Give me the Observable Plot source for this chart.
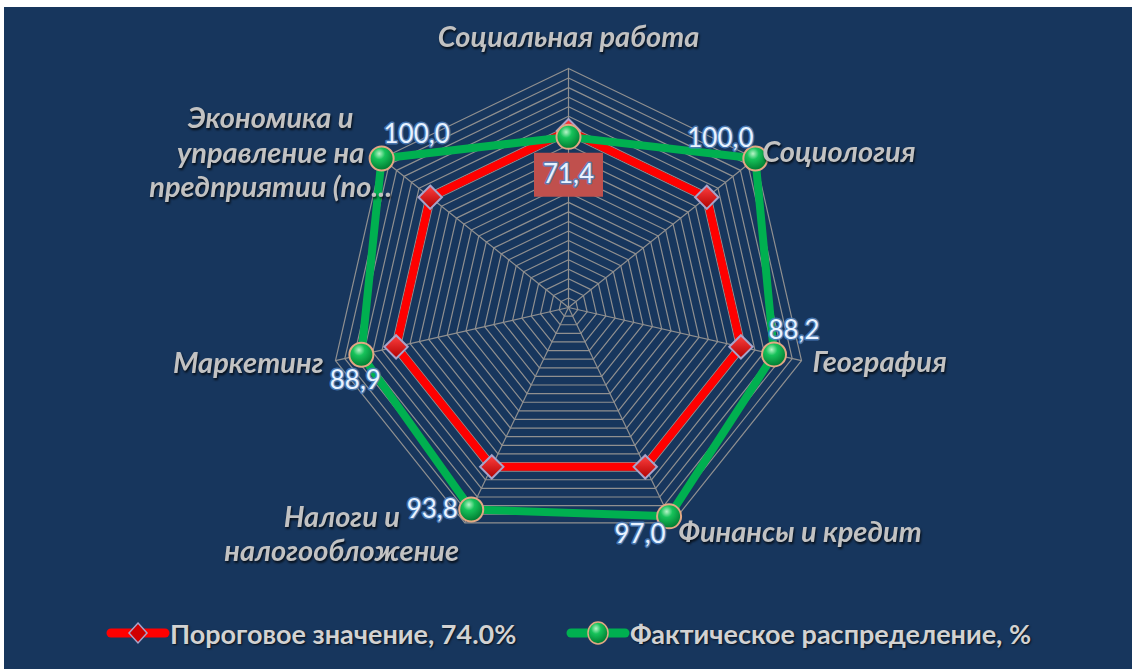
<!DOCTYPE html>
<html><head><meta charset="utf-8">
<script src="https://cdn.jsdelivr.net/npm/d3@7"></script>
<script src="https://cdn.jsdelivr.net/npm/@observablehq/plot@0.6"></script>
<style>
html,body{margin:0;padding:0;background:#fff;width:1132px;height:669px;overflow:hidden;}
#bg{position:absolute;left:4px;top:7px;width:1128px;height:662px;background:#17365D;}
#chart{position:absolute;left:0;top:0;}
#legend{position:absolute;top:615px;left:0;width:1132px;height:36px;font-family:Lato,"Open Sans",sans-serif;font-weight:bold;font-size:27px;color:#D2D2D2;}
.item{position:absolute;top:0;height:36px;display:flex;align-items:center;white-space:nowrap;text-shadow:1px 1px 2px rgba(0,0,0,0.7);}
.item svg{display:block;}
</style></head><body>
<div id="bg"></div><div id="chart"></div><div id="legend"></div>
<script>
// ---- data ----
const categories = [
  "Социальная работа",
  "Социология",
  "География",
  "Финансы и кредит",
  "Налоги и\nналогообложение",
  "Маркетинг",
  "Экономика и\nуправление на\nпредприятии (по..."
];
const thresholdValues = [74, 74, 74, 74, 74, 74, 74];
const actualValues = [71.4, 100, 88.2, 97.0, 93.8, 88.9, 100];
const valueLabels = ["71,4", "100,0", "88,2", "97,0", "93,8", "88,9", "100,0"];
const seriesNames = ["Пороговое значение, 74.0%", "Фактическое распределение, %"];
const gridMax = 100;
const gridStep = 4;

// ---- layout (pixels) ----
const W = 1132, H = 600, CX = 568, CY = 307, R = 239;
const k = R / gridMax; // px per unit
const xDomain = [-CX / k, (W - CX) / k];
const yDomain = [-(H - CY) / k, CY / k];

// label placement relative to points (pixels)
const axisLabelLayout = [
  {anchor: "middle", dx: 0, dy: -33},
  {anchor: "start", dx: 7, dy: -8},
  {anchor: "start", dx: 11, dy: 0},
  {anchor: "start", dx: 6, dy: 8},
  {anchor: "middle", dx: -123, dy: 10},
  {anchor: "end", dx: -12, dy: 1},
  {anchor: "middle", dx: -111, dy: -7}
];
const valueLabelLayout = [
  {dx: 0, dy: 38}, {dx: -35, dy: -20}, {dx: 20, dy: -24}, {dx: -29, dy: 18},
  {dx: -39, dy: 0}, {dx: -6, dy: 26}, {dx: 35, dy: -24}
];

const n = categories.length;
const ang = i => i * 2 * Math.PI / n;
const px = (v, i) => v * Math.sin(ang(i));
const py = (v, i) => v * Math.cos(ang(i));

const ringLevels = d3.range(gridStep, gridMax + gridStep / 2, gridStep);
const ringData = ringLevels.flatMap(l => d3.range(n + 1).map(i => ({l, x: px(l, i % n), y: py(l, i % n)})));
const spokes = categories.map((c, i) => ({x1: 0, y1: 0, x2: px(gridMax, i), y2: py(gridMax, i)}));

const series = (vals) => vals.map((v, i) => ({cat: categories[i], v, i, x: px(v, i), y: py(v, i)}));
const red = series(thresholdValues);
const green = series(actualValues);
const closed = arr => [...arr, arr[0]];

const defs = () => {
  const d = d3.create("svg:defs");
  const g = d.append("radialGradient").attr("id", "gGreen").attr("cx", "40%").attr("cy", "30%").attr("r", "70%");
  g.append("stop").attr("offset", "0%").attr("stop-color", "#B8F5C8");
  g.append("stop").attr("offset", "35%").attr("stop-color", "#17C25A");
  g.append("stop").attr("offset", "100%").attr("stop-color", "#007A30");
  const r = d.append("linearGradient").attr("id", "gRed").attr("x1", "0").attr("y1", "0").attr("x2", "0").attr("y2", "1");
  r.append("stop").attr("offset", "0%").attr("stop-color", "#FF4040");
  r.append("stop").attr("offset", "100%").attr("stop-color", "#B00000");
  return d.node();
};

const boxSymbol = {draw(ctx) { ctx.rect(-34.5, -22, 69, 44); }};

const axisLabelMarks = categories.map((c, i) => Plot.text([c], {
  x: () => px(gridMax, i), y: () => py(gridMax, i), text: d => d,
  dx: axisLabelLayout[i].dx, dy: axisLabelLayout[i].dy, textAnchor: axisLabelLayout[i].anchor,
  fontFamily: "Lato, 'Open Sans', sans-serif", fontSize: 29, fontStyle: "italic", fontWeight: "bold",
  fill: "#C2C2C2", lineHeight: 1.2, ariaDescription: "axis-label"
}));

const valueLabelMarks = green.map((d, i) => Plot.text([d], {
  x: "x", y: "y", text: () => valueLabels[i],
  dx: valueLabelLayout[i].dx, dy: valueLabelLayout[i].dy,
  fontFamily: "Lato, 'Open Sans', sans-serif", fontSize: 26,
  fill: "#E8F2FF", stroke: "#4F81BD", strokeWidth: 3, strokeOpacity: 0.85, paintOrder: "stroke"
}));

const chart = Plot.plot({
  width: W, height: H,
  marginTop: 0, marginRight: 0, marginBottom: 0, marginLeft: 0,
  style: {background: "transparent", overflow: "visible"},
  x: {domain: xDomain, range: [0, W], axis: null},
  y: {domain: yDomain, range: [H, 0], axis: null},
  marks: [
    defs,
    Plot.line(ringData, {x: "x", y: "y", z: "l", stroke: "#909090", strokeWidth: 1.2}),
    Plot.link(spokes, {x1: "x1", y1: "y1", x2: "x2", y2: "y2", stroke: "#909090", strokeWidth: 1.2}),
    Plot.line(closed(red), {x: "x", y: "y", stroke: "#FF0000", strokeWidth: 8, strokeLinejoin: "miter", curve: "linear"}),
    Plot.dot(red, {x: "x", y: "y", symbol: "diamond2", r: 10.5, fill: "url(#gRed)", stroke: "#A9A3C9", strokeWidth: 2}),
    Plot.line(closed(green), {x: "x", y: "y", stroke: "#00B050", strokeWidth: 8, strokeLinejoin: "miter", curve: "linear"}),
    Plot.dot(green, {x: "x", y: "y", r: 12, fill: "url(#gGreen)", stroke: "#E2A884", strokeWidth: 2}),
    Plot.dot([green[0]], {x: "x", y: "y", dy: valueLabelLayout[0].dy, symbol: boxSymbol, r: 10, fill: "#C0504D", stroke: "none"}),
    ...valueLabelMarks,
    ...axisLabelMarks
  ]
});
document.getElementById("chart").appendChild(chart);
d3.select(chart).selectAll('g[aria-description="axis-label"] text')
  .style("filter", "drop-shadow(1px 2px 1px rgba(0,0,0,0.75))");

// legend
const legend = d3.select("#legend");
const item1 = legend.append("div").attr("class", "item").style("left", "106px");
item1.append("span").html('<svg width="64" height="30"><line x1="5" y1="15" x2="59" y2="15" stroke="#FF0000" stroke-width="9" stroke-linecap="round"/><path d="M32,5 L41,15 L32,25 L23,15Z" fill="#D00000" stroke="#A9A3C9" stroke-width="1.5"/></svg>');
item1.append("span").text(seriesNames[0]);
const item2 = legend.append("div").attr("class", "item").style("left", "566px");
item2.append("span").html('<svg width="64" height="30"><defs><radialGradient id="lg" cx="40%" cy="30%" r="70%"><stop offset="0%" stop-color="#B8F5C8"/><stop offset="35%" stop-color="#17C25A"/><stop offset="100%" stop-color="#007A30"/></radialGradient></defs><line x1="5" y1="15" x2="59" y2="15" stroke="#00B050" stroke-width="9" stroke-linecap="round"/><ellipse cx="32" cy="15" rx="10" ry="11" fill="url(#lg)" stroke="#E2A884" stroke-width="1.5"/></svg>');
item2.append("span").text(seriesNames[1]);
</script>
</body></html>
